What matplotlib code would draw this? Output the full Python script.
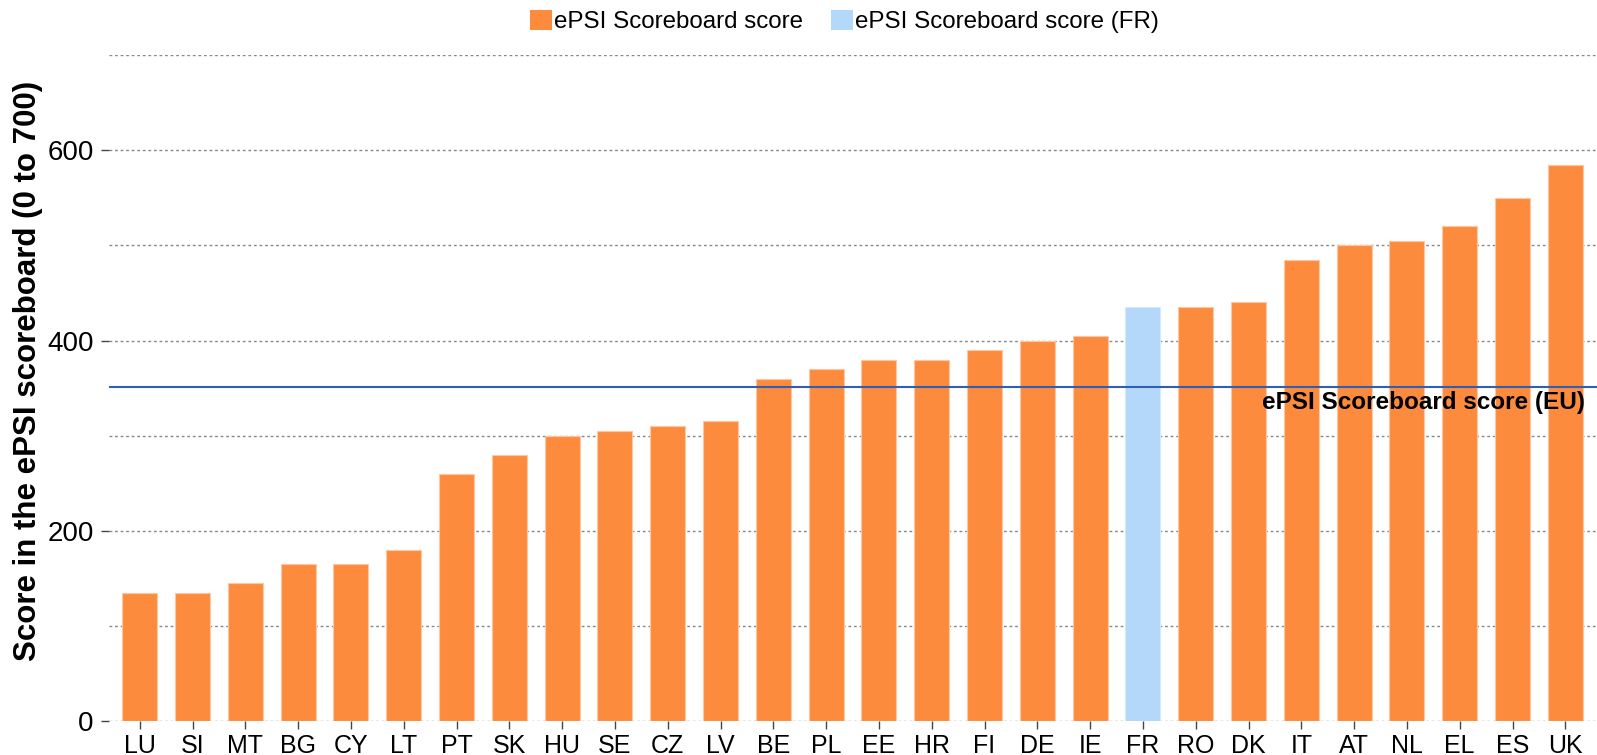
import matplotlib
matplotlib.use('Agg')
from matplotlib import pyplot as plt
from matplotlib.patches import Patch

plt.rcParams['font.family'] = ['Liberation Sans', 'DejaVu Sans']

countries = ['LU', 'SI', 'MT', 'BG', 'CY', 'LT', 'PT', 'SK', 'HU', 'SE', 'CZ', 'LV', 'BE', 'PL',
             'EE', 'HR', 'FI', 'DE', 'IE', 'FR', 'RO', 'DK', 'IT', 'AT', 'NL', 'EL', 'ES', 'UK']
scores = [135, 135, 145, 165, 165, 180, 260, 280, 300, 305, 310, 315, 360, 370,
          380, 380, 390, 400, 405, 435, 435, 440, 485, 500, 505, 520, 550, 585]
eu_score = 351
highlight = 'FR'

y_major = [0, 200, 400, 600]
y_minor = [100, 300, 500, 700]

orange = '#FD8B3E'
lightblue = '#B4D8FA'

fig = plt.figure(figsize=(15.97, 7.55), dpi=100)
ax = fig.add_axes([0.0683, 0.045, 0.9317, 0.882])

xpos = list(range(len(countries)))
cols = [lightblue if c == highlight else orange for c in countries]
edges = ['#D6EAFC' if c == highlight else '#FDC7A3' for c in countries]
ax.bar(xpos, scores, width=0.66, color=cols, edgecolor=edges, lw=0.8, zorder=2)

ax.axhline(eu_score, color='#2F5FB3', lw=1.5, zorder=3)
ax.text(0.992, 335, 'ePSI Scoreboard score (EU)', transform=ax.get_yaxis_transform(),
        ha='right', va='center', fontsize=17.5, fontweight='bold', zorder=4)

ax.set_xlim(-0.58, 27.6)
ax.set_ylim(0, 700)

ax.set_xticks(xpos)
ax.set_xticklabels(countries, fontsize=18)
ax.set_yticks(y_major)
ax.set_yticklabels([str(v) for v in y_major], fontsize=20)
ax.set_yticks(y_minor, minor=True)
ax.tick_params(axis='y', which='major', length=6, width=1, color='#444444', pad=5)
ax.tick_params(axis='y', which='minor', length=0)
ax.tick_params(axis='x', length=6, width=1, color='#444444', pad=3)

ax.grid(axis='y', which='both', color='#888888', ls=(0, (2, 2)), lw=1, zorder=0)
ax.set_axisbelow(True)
for s in ax.spines.values():
    s.set_visible(False)

ax.set_ylabel('Score in the ePSI scoreboard (0 to 700)', fontsize=22.5, fontweight='bold', va='center')
ax.yaxis.set_label_coords(-0.0548, 0.5255)

handles = [Patch(fc=orange, ec='none'), Patch(fc=lightblue, ec='none')]
fig.legend(handles, ['ePSI Scoreboard score', 'ePSI Scoreboard score (FR)'],
           loc='center', bbox_to_anchor=(0.529, 0.9715), ncol=2, frameon=False,
           fontsize=17.4, handlelength=0.9, handleheight=0.9, handletextpad=0.1,
           columnspacing=1.15)

fig.savefig('out.png', dpi=100)
